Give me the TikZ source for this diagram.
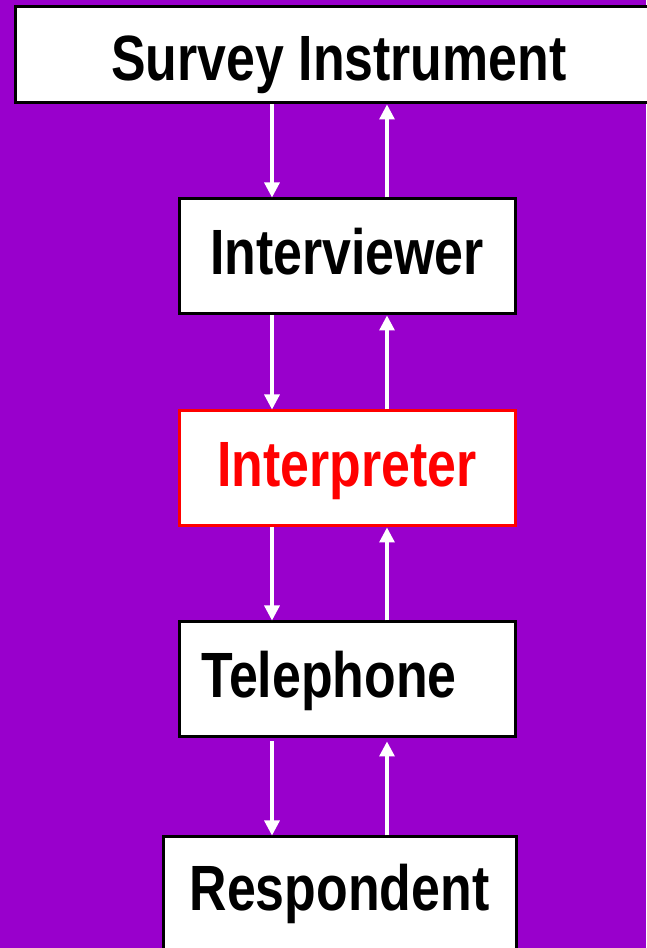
\documentclass[tikz,border=0pt]{standalone}
\usepackage{fontspec}
\setmainfont{Liberation Sans}[FakeStretch=0.81]
\usetikzlibrary{arrows.meta}
\definecolor{bgpurple}{HTML}{9900CC}
\definecolor{boxred}{HTML}{FF0000}
\begin{document}
\begin{tikzpicture}[x=1pt,y=1pt,
  box/.style={draw=black, fill=white, line width=3pt, inner sep=0pt,
    text height=46pt, text depth=10pt,
    font=\bfseries\fontsize{64}{70}\selectfont},
  redbox/.style={box, draw=boxred, text=boxred},
  flow/.style={white, line width=3.2pt, -{Triangle[width=15pt,length=15pt]}}]
\fill[bgpurple] (0,0) rectangle (646,948);
\useasboundingbox (0,0) rectangle (646,948);
\node[box, minimum width=648pt, minimum height=96pt] (survey) at (339,893) {\raisebox{-8pt}{Survey Instrument}};
\node[box, minimum width=336pt, minimum height=115pt] (interviewer) at (347,691.5) {Interviewer};
\node[redbox, minimum width=336pt, minimum height=115pt] (interpreter) at (347,479.5) {Interpreter};
\node[box, minimum width=336pt, minimum height=115pt] (telephone) at (347,268.5) {Telephone\hspace*{36pt}};
\node[box, minimum width=353pt, minimum height=121pt] (respondent) at (339.5,50.5) {\raisebox{5pt}{Respondent}};
\coordinate (dn) at (272,0);
\coordinate (up) at (387,0);
\draw[flow] (survey.south -| dn) -- (interviewer.north -| dn);
\draw[flow] (interviewer.north -| up) -- (survey.south -| up);
\draw[flow] (interviewer.south -| dn) -- (interpreter.north -| dn);
\draw[flow] (interpreter.north -| up) -- (interviewer.south -| up);
\draw[flow] (interpreter.south -| dn) -- (telephone.north -| dn);
\draw[flow] (telephone.north -| up) -- (interpreter.south -| up);
\draw[flow] ([yshift=-3pt]telephone.south -| dn) -- (respondent.north -| dn);
\draw[flow] (respondent.north -| up) -- ([yshift=-3pt]telephone.south -| up);
\end{tikzpicture}
\end{document}
